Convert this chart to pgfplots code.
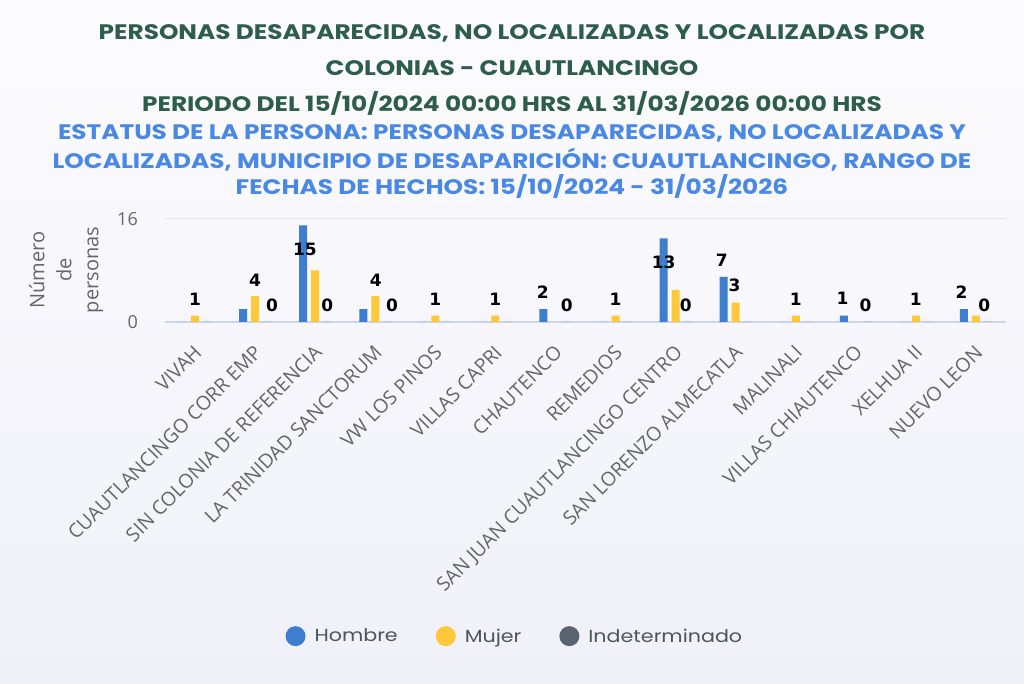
\documentclass[border=0pt]{standalone}
\usepackage{pgfplots}
\pgfplotsset{compat=1.18}
\usepackage{fontspec}
\setmainfont{Open Sans}
\newfontfamily\titlefont[FakeStretch=1.18]{Poppins}
\newfontfamily\labfont{DejaVu Sans}
\definecolor{hombre}{HTML}{3D7ECF}
\definecolor{mujer}{HTML}{FFC83A}
\definecolor{indet}{HTML}{5A6470}
\definecolor{titlegreen}{HTML}{2E5D4B}
\definecolor{subblue}{HTML}{4A88E6}
\definecolor{tickgray}{HTML}{666666}
\definecolor{gridcol}{HTML}{E3E3EA}
\definecolor{basecol}{HTML}{CCD6EB}
\definecolor{legtext}{HTML}{4A5858}
\begin{document}
\begin{tikzpicture}[x=1pt,y=1pt]
\shade[top color={rgb,255:red,252;green,252;blue,254}, bottom color={rgb,255:red,240;green,240;blue,249}] (0,0) rectangle (1024,684);
\begin{scope}[font=\titlefont\bfseries\fontsize{21}{24}\selectfont]
\node[text=titlegreen] at (512,651) {PERSONAS DESAPARECIDAS, NO LOCALIZADAS Y LOCALIZADAS POR};
\node[text=titlegreen] at (512,616) {COLONIAS - CUAUTLANCINGO};
\node[text=titlegreen] at (512,580) {PERIODO DEL 15/10/2024 00:00 HRS AL 31/03/2026 00:00 HRS};
\node[text=subblue] at (512,551) {ESTATUS DE LA PERSONA: PERSONAS DESAPARECIDAS, NO LOCALIZADAS Y};
\node[text=subblue] at (512,524) {LOCALIZADAS, MUNICIPIO DE DESAPARICIÓN: CUAUTLANCINGO, RANGO DE};
\node[text=subblue] at (512,498) {FECHAS DE HECHOS: 15/10/2024 - 31/03/2026};
\end{scope}
\node[rotate=90, align=center, text=tickgray, font=\fontsize{20}{27}\selectfont] at (66,414) {Número\\de\\personas};
\begin{axis}[
  at={(165pt,362pt)}, anchor=south west,
  scale only axis, width=841pt, height=103pt,
  ymin=0, ymax=16, xmin=-0.5, xmax=13.5,
  ybar, bar width=8pt,
  ytick={0,16},
  xtick={0,...,13},
  xticklabels={VIVAH,CUAUTLANCINGO CORR EMP,SIN COLONIA DE REFERENCIA,LA TRINIDAD SANCTORUM,VW LOS PINOS,VILLAS CAPRI,CHAUTENCO,REMEDIOS,SAN JUAN CUAUTLANCINGO CENTRO,SAN LORENZO ALMECATLA,MALINALI,VILLAS CHIAUTENCO,XELHUA II,NUEVO LEON},
  x tick label style={rotate=45, anchor=north east, inner sep=0pt, xshift=-17pt, yshift=-14pt, font=\fontsize{19.5}{20}\selectfont, text=tickgray},
  y tick label style={anchor=east, inner sep=0pt, xshift=-27pt, font=\fontsize{18}{18}\selectfont, text=tickgray},
  /pgf/number format/assume math mode=true,
  major tick length=0pt,
  axis x line*=bottom, axis y line*=left,
  y axis line style={draw=none},
  x axis line style={draw=basecol, line width=1.2pt, -},
  ymajorgrids, grid style={gridcol, line width=1pt},
  legend style={at={(0.416,-3.05)}, anchor=center, draw=none, fill=none,
    font=\titlefont\fontsize{17.5}{20}\selectfont, text=legtext,
    /tikz/every even column/.append style={column sep=36pt}},
  legend columns=3,
  clip=false,
]
\addplot[fill=hombre, draw=none, bar shift=-12pt, legend image code/.code={\fill[hombre] (0pt,0pt) circle (10pt);}] coordinates {
(0,0) (1,2) (2,15) (3,2) (4,0) (5,0) (6,2) (7,0) (8,13) (9,7) (10,0) (11,1) (12,0) (13,2)};
\addlegendentry{\hspace{7pt}Hombre}
\addplot[fill=mujer, draw=none, bar shift=0pt, legend image code/.code={\fill[mujer] (0pt,0pt) circle (10pt);}] coordinates {
(0,1) (1,4) (2,8) (3,4) (4,1) (5,1) (6,0) (7,1) (8,5) (9,3) (10,1) (11,0) (12,1) (13,1)};
\addlegendentry{\hspace{7pt}Mujer}
\addplot[fill=indet, draw=none, bar shift=12pt, legend image code/.code={\fill[indet] (0pt,0pt) circle (10pt);}] coordinates {
(0,0) (1,0) (2,0) (3,0) (4,0) (5,0) (6,0) (7,0) (8,0) (9,0) (10,0) (11,0) (12,0) (13,0)};
\addlegendentry{\hspace{7pt}Indeterminado}
\begin{scope}[every node/.style={font=\labfont\bfseries\fontsize{17}{18}\selectfont, text=black, inner sep=0pt}]
\node at (axis cs:0,3.57) {1};
\node at (axis cs:1,6.52) {4};
\node at (axis cs:1.28,2.64) {0};
\node at (axis cs:1.83,11.3) {15};
\node at (axis cs:2.2,2.64) {0};
\node at (axis cs:3.01,6.52) {4};
\node at (axis cs:3.28,2.64) {0};
\node at (axis cs:4,3.57) {1};
\node at (axis cs:5,3.57) {1};
\node at (axis cs:5.79,4.66) {2};
\node at (axis cs:6.19,2.64) {0};
\node at (axis cs:7,3.57) {1};
\node at (axis cs:7.8,9.3) {13};
\node at (axis cs:8.17,2.64) {0};
\node at (axis cs:8.77,9.6) {7};
\node at (axis cs:8.98,5.75) {3};
\node at (axis cs:10,3.57) {1};
\node at (axis cs:10.78,3.73) {1};
\node at (axis cs:11.16,2.64) {0};
\node at (axis cs:12,3.57) {1};
\node at (axis cs:12.76,4.66) {2};
\node at (axis cs:13.14,2.64) {0};
\end{scope}
\end{axis}
\end{tikzpicture}
\end{document}
